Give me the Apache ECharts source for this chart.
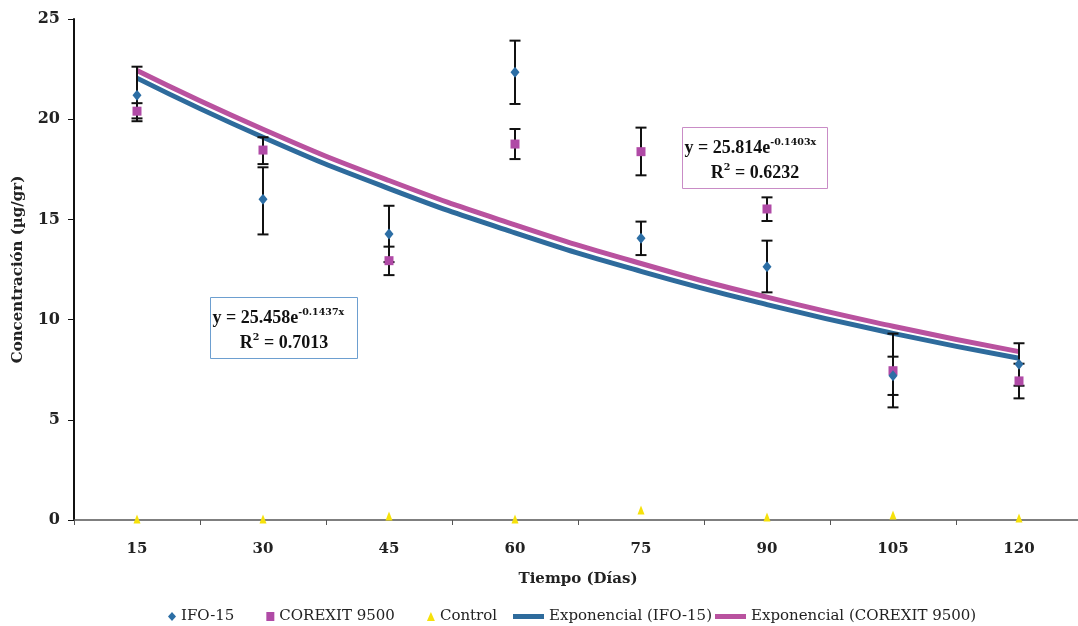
<!DOCTYPE html>
<html>
<head>
<meta charset="utf-8">
<script src="https://cdn.jsdelivr.net/npm/echarts@6/dist/echarts.min.js"></script>
<style>
html,body{margin:0;padding:0;background:#fff;}
#chart{width:1078px;height:626px;}
</style>
</head>
<body>
<div id="chart"></div>
<script>
// ---- data ----
var dayLabels = ['15','30','45','60','75','90','105','120'];
var days = [15, 30, 45, 60, 75, 90, 105, 120];
var ifo = [21.2, 16.0, 14.27, 22.34, 14.06, 12.64, 7.2, 7.77];
var ifoLow = [19.9, 14.25, 12.87, 20.76, 13.22, 11.36, 5.62, 6.7];
var ifoHigh = [22.62, 17.6, 15.68, 23.92, 14.89, 13.94, 9.3, 8.82];
var corexit = [20.4, 18.46, 12.94, 18.76, 18.38, 15.52, 7.45, 6.94];
var corexitLow = [20.04, 17.76, 12.22, 18.01, 17.2, 14.92, 6.24, 6.07];
var corexitHigh = [20.8, 19.1, 13.64, 19.51, 19.58, 16.1, 8.15, 7.8];
var control = [0.05, 0.05, 0.2, 0.05, 0.5, 0.15, 0.25, 0.1];
// trend-line values read at each sampling day
var trendIfo = [22.05, 19.10, 16.54, 14.33, 12.41, 10.75, 9.31, 8.07];
var trendCorexit = [22.43, 19.50, 16.94, 14.73, 12.80, 11.12, 9.67, 8.40];
var yTicks = [0, 5, 10, 15, 20, 25];
var eqIfo = ['y = 25.458e', '-0.1437x', '0.7013'];
var eqCorexit = ['y = 25.814e', '-0.1403x', '0.6232'];

var BLUE = '#2c6ea5', PINK = '#b04aa6', YELLOW = '#f6e10a';
var LBLUE = '#2e6b9c', LPINK = '#b9529f';
var SERIF = '"DejaVu Serif", "Liberation Serif", serif';
var TIMES = '"Liberation Serif", serif';

function pairs(xs, ys){ return xs.map(function(x,i){ return [x, ys[i]]; }); }
function triples(xs, lo, hi){ return xs.map(function(x,i){ return [x, lo[i], hi[i]]; }); }

function errRender(params, api){
  var x = api.value(0), lo = api.value(1), hi = api.value(2);
  var a = api.coord([x, lo]), b = api.coord([x, hi]);
  var w = 5.5;
  var st = {stroke:'#111', lineWidth:2};
  return {type:'group', children:[
    {type:'line', shape:{x1:a[0], y1:a[1], x2:b[0], y2:b[1]}, style:st},
    {type:'line', shape:{x1:a[0]-w, y1:a[1], x2:a[0]+w, y2:a[1]}, style:st},
    {type:'line', shape:{x1:b[0]-w, y1:b[1], x2:b[0]+w, y2:b[1]}, style:st}
  ]};
}

var richStyle = {
  m:{fontFamily:TIMES, fontWeight:'bold', fontSize:18, fill:'#111', lineHeight:22, verticalAlign:'middle'},
  s:{fontFamily:SERIF, fontWeight:'bold', fontSize:9.5, fill:'#111', lineHeight:9, verticalAlign:'top'}
};
function eqBox(left, top, w, h, stroke, eq){
  return {type:'group', left:left, top:top, children:[
    {type:'rect', shape:{x:0, y:0, width:w, height:h}, style:{fill:'#fff', stroke:stroke, lineWidth:1}},
    {type:'text', x:2, y:10, style:{text:'{m|'+eq[0]+'}{s|'+eq[1]+'}', align:'left', rich:richStyle}},
    {type:'text', x:w/2, y:35, style:{text:'{m|R}{s|2}{m| = '+eq[2]+'}', align:'center', rich:richStyle}}
  ]};
}

var chart = echarts.init(document.getElementById('chart'));
var option = {
  backgroundColor:'#fff',
  animation:false,
  grid:{left:74, width:1008, top:19, bottom:106, containLabel:false, outerBoundsMode:'none'},
  xAxis:[{
    type:'category', data:dayLabels, boundaryGap:true,
    name:'Tiempo (Días)', nameLocation:'middle', nameGap:52,
    nameTextStyle:{fontFamily:SERIF, fontWeight:'bold', fontSize:15, color:'#222'},
    axisLine:{lineStyle:{color:'#555', width:1.5}},
    axisTick:{show:true, length:5, lineStyle:{color:'#555'}},
    axisLabel:{fontFamily:SERIF, fontWeight:'bold', fontSize:15, color:'#222', margin:22},
    splitLine:{show:false}
  },{
    type:'value', min:7.5, max:127.5, show:false
  }],
  yAxis:{
    type:'value', min:yTicks[0], max:yTicks[yTicks.length-1], interval:5,
    name:'Concentración (µg/gr)', nameLocation:'middle', nameGap:48,
    nameTextStyle:{fontFamily:SERIF, fontWeight:'bold', fontSize:15, color:'#222'},
    axisLine:{show:true, lineStyle:{color:'#111', width:2}},
    axisTick:{show:true, length:6, lineStyle:{color:'#111'}},
    axisLabel:{fontFamily:SERIF, fontWeight:'bold', fontSize:16, color:'#222', margin:14},
    splitLine:{show:false}
  },
  legend:[{
    left:163, top:604, itemGap:32, itemWidth:8, itemHeight:9,
    textStyle:{fontFamily:SERIF, fontSize:15, color:'#222'},
    data:[
      {name:'IFO-15', icon:'diamond', itemStyle:{color:BLUE}},
      {name:'COREXIT 9500', icon:'rect', itemStyle:{color:PINK}},
      {name:'Control', icon:'triangle', itemStyle:{color:YELLOW}}
    ]
  },{
    left:508, top:604, itemGap:3, itemWidth:31, itemHeight:5,
    textStyle:{fontFamily:SERIF, fontSize:15, color:'#222'},
    data:[
      {name:'Exponencial (IFO-15)', icon:'rect', itemStyle:{color:LBLUE}},
      {name:'Exponencial (COREXIT 9500)', icon:'rect', itemStyle:{color:LPINK}}
    ]
  }],
  series:[
    {name:'Exponencial (IFO-15)', type:'line', xAxisIndex:1, smooth:0.5, showSymbol:false,
     data:pairs(days, trendIfo), lineStyle:{color:LBLUE, width:5}, itemStyle:{color:LBLUE}, z:2},
    {name:'Exponencial (COREXIT 9500)', type:'line', xAxisIndex:1, smooth:0.5, showSymbol:false,
     data:pairs(days, trendCorexit), lineStyle:{color:LPINK, width:5}, itemStyle:{color:LPINK}, z:2},
    {type:'custom', xAxisIndex:1, renderItem:errRender, data:triples(days, ifoLow, ifoHigh), z:3, silent:true},
    {type:'custom', xAxisIndex:1, renderItem:errRender, data:triples(days, corexitLow, corexitHigh), z:3, silent:true},
    {name:'IFO-15', type:'scatter', xAxisIndex:1, symbol:'diamond', symbolSize:[9,11],
     data:pairs(days, ifo), itemStyle:{color:BLUE, opacity:1}, z:5},
    {name:'COREXIT 9500', type:'scatter', xAxisIndex:1, symbol:'rect', symbolSize:9,
     data:pairs(days, corexit), itemStyle:{color:PINK, opacity:1}, z:4},
    {name:'Control', type:'scatter', xAxisIndex:1, symbol:'triangle', symbolSize:[7,9],
     data:pairs(days, control), itemStyle:{color:YELLOW, opacity:1}, z:4}
  ],
  graphic:[
    eqBox(210, 297, 147, 61, '#6d9fd0', eqIfo),
    eqBox(682, 127, 145, 61, '#c98cc6', eqCorexit)
  ]
};
chart.setOption(option);
</script>
</body>
</html>
